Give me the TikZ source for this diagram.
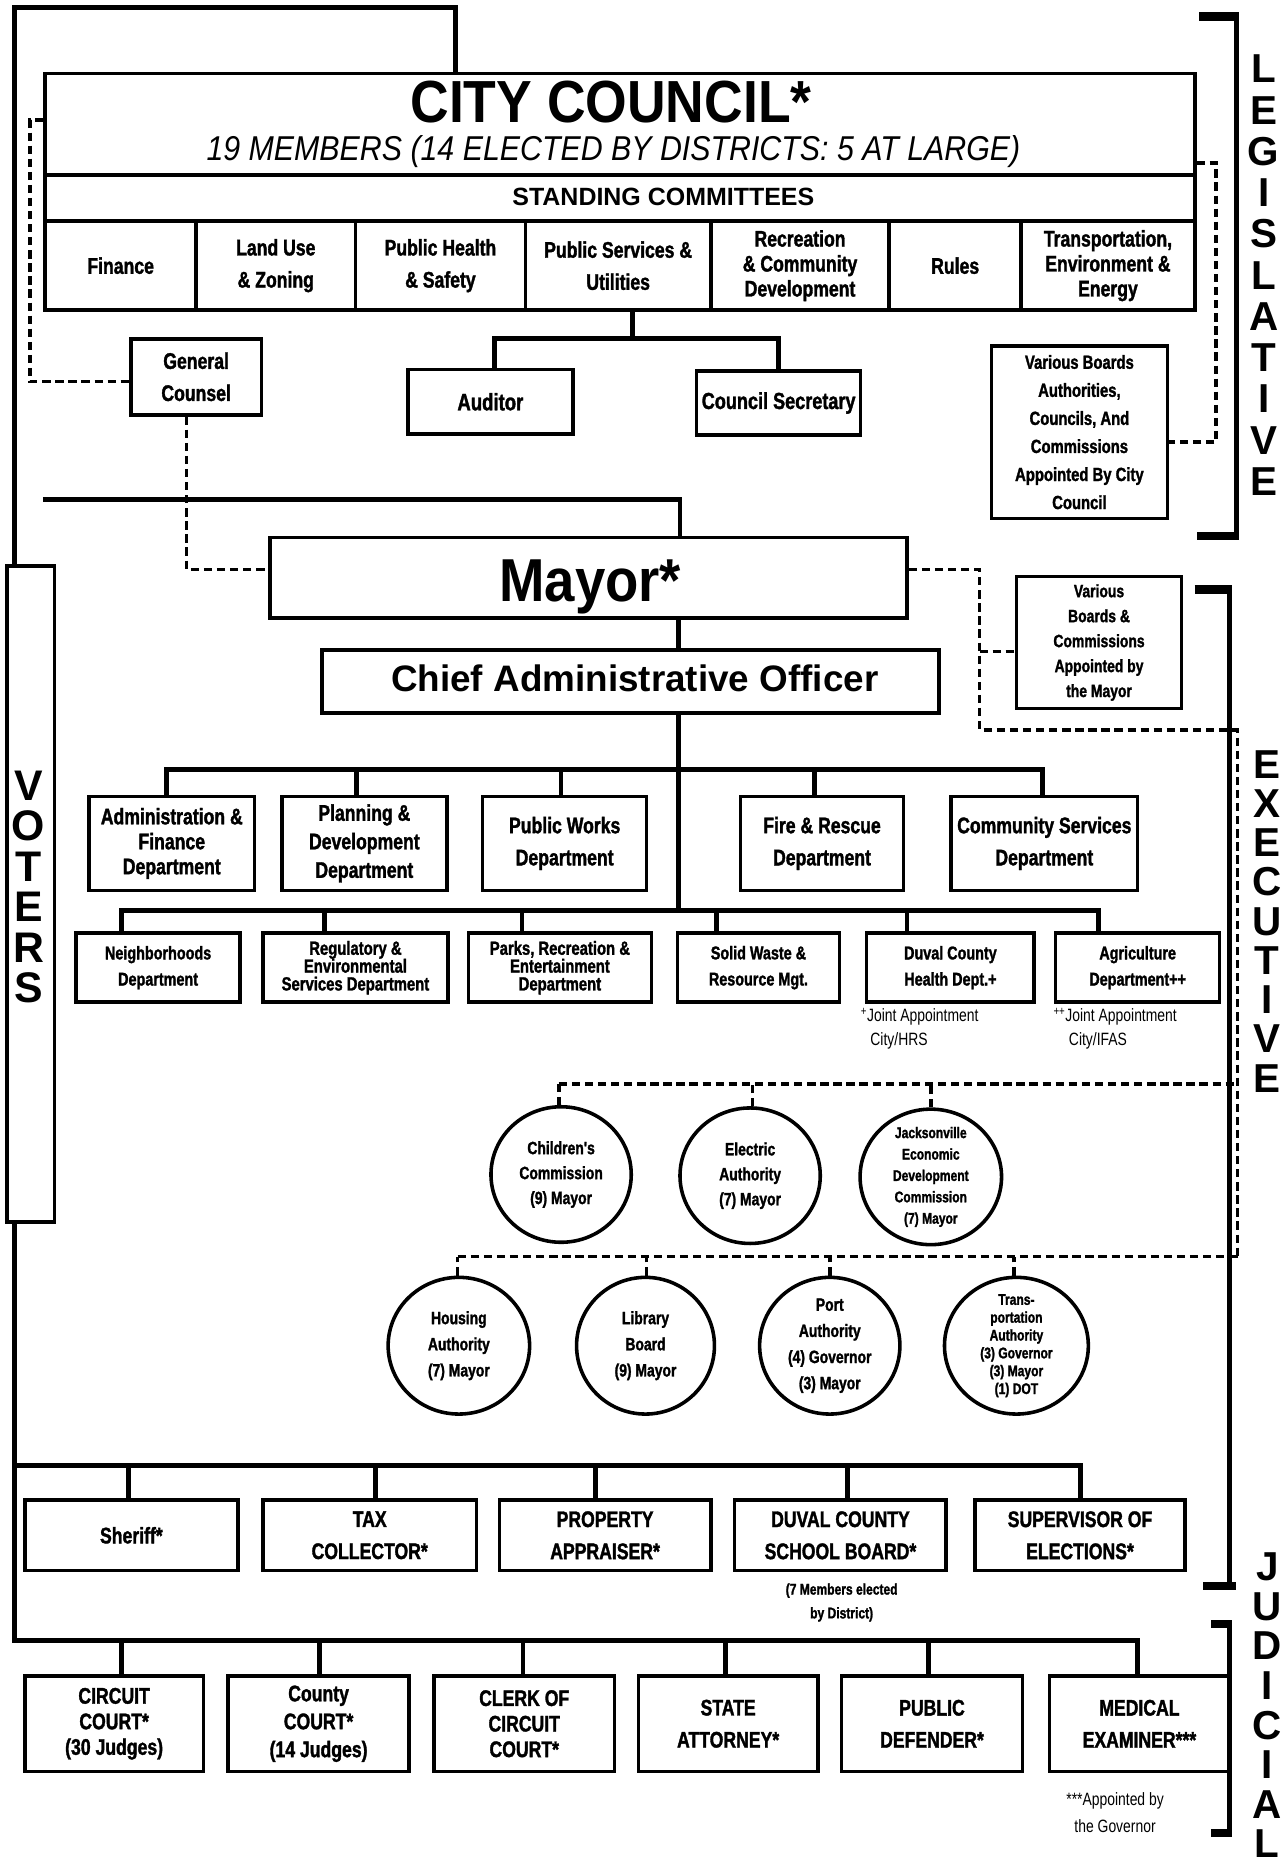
\documentclass[tikz,border=0pt]{standalone}
\usepackage{fontspec}
\setmainfont{Liberation Sans}
\newfontfamily\cn[FakeStretch=0.78,BoldFeatures={FakeBold=1.5}]{Liberation Sans}
\newfontfamily\cnw[FakeStretch=0.9]{Liberation Sans}
\newfontfamily\cni[FakeStretch=0.88]{Liberation Sans}
\usetikzlibrary{shapes.geometric}
\newcommand\myfs[2]{\fontsize{#1}{#2}\selectfont}
\begin{document}
\begin{tikzpicture}[x=1pt,y=-1pt,
  bx/.style={draw,line width=3pt,fill=white,inner sep=0pt,align=center,font=\cn\bfseries\myfs{19}{27}},
  conn/.style={line width=4pt},
  dsh/.style={line width=3pt,dash pattern=on 7pt off 4pt},
  ell/.style={ellipse,draw,line width=3pt,fill=white,inner sep=0pt},
  etx/.style={align=center,inner sep=0pt,font=\cn\bfseries\myfs{15}{21}},
  brl/.style={inner sep=0pt,font=\bfseries\myfs{34}{34}},
  note/.style={align=center,inner sep=0pt,font=\cn\myfs{15}{20}}]
\useasboundingbox (0,0) rectangle (1083,1568);

% ---------------- Legislative ----------------
\node[bx,minimum width=967,minimum height=85] (cc) at (521.5,104.5) {};
\node[inner sep=0pt,anchor=base,font=\cnw\bfseries\myfs{50}{50}] (cct) at (514,103) {CITY COUNCIL*};
\node[inner sep=0pt,anchor=base,font=\cni\itshape\myfs{29}{29}] (ccs) at (516,135) {19 MEMBERS (14 ELECTED BY DISTRICTS: 5 AT LARGE)};
\node[bx,minimum width=967,minimum height=39] (sc) at (521.5,166.5) {};
\node[inner sep=0pt,font=\bfseries\myfs{21}{21}] (sct) at (558,166) {STANDING COMMITTEES};

\node[bx,minimum width=127,minimum height=75] (fin) at (101.5,223.5) {Finance};
\node[bx,minimum width=134,minimum height=75] (lu) at (232,223.5) {Land Use\\\& Zoning};
\node[bx,minimum width=143,minimum height=75] (phs) at (370.5,223.5) {Public Health\\\& Safety};
\node[bx,minimum width=156,minimum height=75] (psu) at (520,223.5) {Public Services \&\\Utilities};
\node[bx,minimum width=150,minimum height=75,font=\cn\bfseries\myfs{19}{21}] (rcd) at (673,223.5) {Recreation\\\& Community\\Development};
\node[bx,minimum width=111,minimum height=75] (rul) at (803.5,223.5) {Rules};
\node[bx,minimum width=146,minimum height=75,font=\cn\bfseries\myfs{19}{21}] (ten) at (932,223.5) {Transportation,\\Environment \&\\Energy};

\node[bx,minimum width=110,minimum height=64] (gc) at (165,317) {General\\Counsel};
\node[bx,minimum width=139,minimum height=54,font=\cn\bfseries\myfs{20}{27}] (aud) at (412.5,338) {Auditor};
\node[bx,minimum width=138,minimum height=54,font=\cn\bfseries\myfs{19.5}{27}] (csec) at (655,339) {Council Secretary};
\node[bx,minimum width=148,minimum height=145,font=\cn\bfseries\myfs{16}{23.6}] (vbc) at (908,363.5) {Various Boards\\Authorities,\\Councils, And\\Commissions\\Appointed By City\\Council};

% ---------------- Executive ----------------
\node[bx,minimum width=536,minimum height=68] (mayor) at (495,486) {};
\node[inner sep=0pt,anchor=base,font=\cnw\bfseries\myfs{51}{51}] (mayt) at (496.5,506) {Mayor*};
\node[bx,minimum width=519,minimum height=53] (cao) at (530.5,573.5) {};
\node[inner sep=0pt,anchor=base,font=\bfseries\myfs{31}{31}] (caot) at (534,582) {Chief Administrative Officer};
\node[bx,minimum width=139,minimum height=111,font=\cn\bfseries\myfs{15}{21}] (vbm) at (924.5,540.5) {Various\\Boards \&\\Commissions\\Appointed by\\the Mayor};

\node[bx,minimum width=139,minimum height=79,font=\cn\bfseries\myfs{19}{21}] (adm) at (144.5,709.5) {Administration \&\\Finance\\Department};
\node[bx,minimum width=139,minimum height=79,font=\cn\bfseries\myfs{19}{24}] (pdd) at (306.5,709.5) {Planning \&\\Development\\Department};
\node[bx,minimum width=138,minimum height=79] (pwd) at (475,709.5) {Public Works\\Department};
\node[bx,minimum width=137,minimum height=79] (frd) at (691.5,709.5) {Fire \& Rescue\\Department};
\node[bx,minimum width=157,minimum height=79] (csd) at (878.5,709.5) {Community Services\\Department};

\node[bx,minimum width=138,minimum height=58,font=\cn\bfseries\myfs{15.5}{22}] (nbh) at (133,814) {Neighborhoods\\Department};
\node[bx,minimum width=156,minimum height=58,font=\cn\bfseries\myfs{16}{15}] (reg) at (299,814) {Regulatory \&\\Environmental\\Services Department};
\node[bx,minimum width=154,minimum height=58,font=\cn\bfseries\myfs{16}{15}] (prk) at (471,814) {Parks, Recreation \&\\Entertainment\\Department};
\node[bx,minimum width=136,minimum height=58,font=\cn\bfseries\myfs{15.5}{22}] (swr) at (638,814) {Solid Waste \&\\Resource Mgt.};
\node[bx,minimum width=141,minimum height=58,font=\cn\bfseries\myfs{15.5}{22}] (dch) at (799.5,814) {Duval County\\Health Dept.+};
\node[bx,minimum width=138,minimum height=58,font=\cn\bfseries\myfs{15.5}{22}] (agr) at (957,814) {Agriculture\\Department++};

\node[note,align=left,anchor=north west] (fn1) at (724,848) {\textsuperscript{+}Joint Appointment\\\hspace*{8pt}City/HRS};
\node[note,align=left,anchor=north west] (fn2) at (886,848) {\textsuperscript{++}Joint Appointment\\\hspace*{13pt}City/IFAS};

\node[ell,minimum width=118,minimum height=114] (chc) at (472,988) {};
\node[etx] (chct) at (chc) {Children's\\Commission\\(9) Mayor};
\node[ell,minimum width=118,minimum height=114] (ela) at (631,989) {};
\node[etx] (elat) at (ela) {Electric\\Authority\\(7) Mayor};
\node[ell,minimum width=119,minimum height=114] (jedc) at (783,990) {};
\node[etx,font=\cn\bfseries\myfs{13}{18}] (jedct) at (jedc) {Jacksonville\\Economic\\Development\\Commission\\(7) Mayor};

\node[ell,minimum width=119,minimum height=115] (hsa) at (386,1132) {};
\node[etx,font=\cn\bfseries\myfs{15}{22}] (hsat) at (hsa) {Housing\\Authority\\(7) Mayor};
\node[ell,minimum width=116,minimum height=115] (lib) at (543,1132) {};
\node[etx,font=\cn\bfseries\myfs{15}{22}] (libt) at (lib) {Library\\Board\\(9) Mayor};
\node[ell,minimum width=118,minimum height=115] (port) at (698,1132) {};
\node[etx,font=\cn\bfseries\myfs{15}{22}] (portt) at (port) {Port\\Authority\\(4) Governor\\(3) Mayor};
\node[ell,minimum width=121,minimum height=115] (trn) at (855,1132) {};
\node[etx,font=\cn\bfseries\myfs{13}{15}] (trnt) at (trn) {Trans-\\portation\\Authority\\(3) Governor\\(3) Mayor\\(1) DOT};

\node[bx,minimum width=179,minimum height=59] (sher) at (110.5,1291.5) {Sheriff*};
\node[bx,minimum width=180,minimum height=59] (tax) at (311,1291.5) {TAX\\COLLECTOR*};
\node[bx,minimum width=178,minimum height=59] (prop) at (509,1291.5) {PROPERTY\\APPRAISER*};
\node[bx,minimum width=178,minimum height=59] (dcsb) at (707,1291.5) {DUVAL COUNTY\\SCHOOL BOARD*};
\node[bx,minimum width=177,minimum height=59] (soe) at (908.5,1291.5) {SUPERVISOR OF\\ELECTIONS*};
\node[note,font=\cn\bfseries\myfs{13}{20}] (dcn) at (708,1348) {(7 Members elected\\by District)};

% ---------------- Judicial ----------------
\node[bx,minimum width=150,minimum height=80,font=\cn\bfseries\myfs{19}{21.5}] (cc1) at (96,1450) {CIRCUIT\\COURT*\\(30 Judges)};
\node[bx,minimum width=152,minimum height=80,font=\cn\bfseries\myfs{19}{23.5}] (cty) at (268,1450) {County\\COURT*\\(14 Judges)};
\node[bx,minimum width=152,minimum height=80,font=\cn\bfseries\myfs{19}{21.5}] (clk) at (441,1450) {CLERK OF\\CIRCUIT\\COURT*};
\node[bx,minimum width=151,minimum height=80] (sta) at (612.5,1450) {STATE\\ATTORNEY*};
\node[bx,minimum width=152,minimum height=80] (pd) at (784,1450) {PUBLIC\\DEFENDER*};
\node[bx,minimum width=151,minimum height=80] (me) at (958.5,1450) {MEDICAL\\EXAMINER***};
\node[note,font=\cn\myfs{15}{23}] (men) at (938,1525) {***Appointed by\\the Governor};

% ---------------- Voters ----------------
\node[bx,minimum width=40,minimum height=552] (vot) at (26,752) {};
\foreach \l [count=\i from 0] in {V,O,T,E,R,S}
  \node[brl,font=\bfseries\myfs{36}{36}] (vl\i) at (24,{661+34*\i}) {\l};

% ---------------- Connectors ----------------
\coordinate (tl) at (12,6);
\coordinate (tr) at (383,6);
\draw[conn] (cc.north -| tr) -- (tr) -- (tl) -- (vot.north -| tl);
\coordinate (jb0) at (12,1380);
\coordinate (jb1) at (957,1380);
\draw[conn] (vot.south -| tl) -- (jb0) -- (jb1) -- (me.north -| jb1);
\foreach \n/\x in {cc1/102,cty/269,clk/440,sta/610,pd/781}
  \draw[conn] (\n.north -| \x,0) -- (\x,1380);
\coordinate (eb0) at (12,1233);
\coordinate (eb1) at (909,1233);
\draw[conn] (eb0) -- (eb1) -- (soe.north -| eb1);
\foreach \n/\x in {sher/108,tax/316,prop/501,dcsb/713}
  \draw[conn] (\n.north -| \x,0) -- (\x,1233);

\coordinate (cj) at (532,285);
\coordinate (ca) at (416,285);
\coordinate (cb) at (655,285);
\draw[conn] (psu.south -| cj) -- (cj);
\draw[conn] (aud.north -| ca) -- (ca) -- (cb) -- (csec.north -| cb);

\coordinate (ml) at (36,420);
\coordinate (mt) at (572,420);
\draw[conn] (ml) -- (mt) -- (mayor.north -| mt);
\coordinate (v1) at (571,766);
\draw[conn] (mayor.south -| v1) -- (cao.north -| v1);
\draw[conn] (cao.south -| v1) -- (v1);
\coordinate (r1a) at (140,647);
\coordinate (r1b) at (877,647);
\draw[conn] (adm.north -| r1a) -- (r1a) -- (r1b) -- (csd.north -| r1b);
\foreach \n/\x in {pdd/300,pwd/472,frd/685}
  \draw[conn] (\n.north -| \x,0) -- (\x,647);
\coordinate (r2a) at (102,766);
\coordinate (r2b) at (924,766);
\draw[conn] (nbh.north -| r2a) -- (r2a) -- (r2b) -- (agr.north -| r2b);
\foreach \n/\x in {reg/273,prk/439,swr/603,dch/763}
  \draw[conn] (\n.north -| \x,0) -- (\x,766);

% dashed links
\coordinate (dl1) at (25,101);
\coordinate (dl2) at (25,321);
\draw[dsh] (cc.west |- dl1) -- (dl1) -- (dl2) -- (gc.west |- dl2);
\coordinate (dg) at (157,479);
\draw[dsh] (gc.south -| dg) -- (dg) -- (mayor.west |- dg);
\coordinate (dr1) at (1023,137);
\coordinate (dr2) at (1023,372);
\draw[dsh] (cc.east |- dr1) -- (dr1) -- (dr2) -- (vbc.east |- dr2);
\coordinate (dm1) at (824,479);
\coordinate (dm2) at (824,614);
\coordinate (dm3) at (1041,614);
\coordinate (dm4) at (1041,1057);
\draw[dsh] (mayor.east |- dm1) -- (dm1) -- (dm2) -- (dm3) -- (dm4);
\coordinate (dmb) at (824,548);
\draw[dsh] (dmb) -- (vbm.west |- dmb);
\coordinate (k1a) at (470,912);
\coordinate (k1b) at (1041,912);
\draw[dsh] (k1a) -- (k1b);
\foreach \n/\x in {chc/470,ela/633,jedc/783}
  \draw[dsh] (\n.north -| \x,0) -- (\x,912);
\coordinate (k2a) at (385,1057);
\draw[dsh] (k2a) -- (dm4);
\foreach \n/\x in {hsa/385,lib/544,port/698,trn/853}
  \draw[dsh] (\n.north -| \x,0) -- (\x,1057);

% ---------------- Brackets ----------------
\draw[line width=4.5pt] (1040,14) -- (1040,451);
\draw[line width=7pt] (1009,14) -- (1042.25,14);
\draw[line width=7pt] (1007,451) -- (1042.25,451);
\foreach \l [count=\i from 0] in {L,E,G,I,S,L,A,T,I,V,E}
  \node[brl] (lg\i) at (1063,{58+34.7*\i}) {\l};

\draw[line width=4.5pt] (1034,496) -- (1034,1334);
\draw[line width=7pt] (1005,496) -- (1036.25,496);
\draw[line width=7pt] (1012,1334) -- (1040,1334);
\foreach \l [count=\i from 0] in {E,X,E,C,U,T,I,V,E}
  \node[brl] (ex\i) at (1066,{643+33*\i}) {\l};

\draw[line width=4.5pt] (1034,1366) -- (1034,1542);
\draw[line width=7pt] (1019,1366) -- (1036.25,1366);
\draw[line width=7pt] (1019,1542) -- (1036.25,1542);
\foreach \l [count=\i from 0] in {J,U,D,I,C,I,A,L}
  \node[brl] (jd\i) at (1066,{1318+33.3*\i}) {\l};
\end{tikzpicture}
\end{document}
